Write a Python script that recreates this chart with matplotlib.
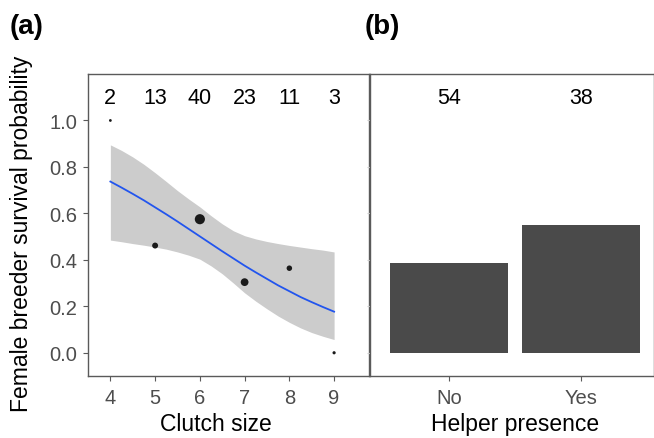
import matplotlib
matplotlib.use("Agg")
import matplotlib.pyplot as plt
import numpy as np

plt.rcParams['font.family'] = ['Liberation Sans', 'DejaVu Sans']

# Panel (a) data
clutch = [4, 5, 6, 7, 8, 9]
survival = [1.0, 0.4615, 0.575, 0.304, 0.364, 0.0]
n_clutch = [2, 13, 40, 23, 11, 3]

fit_x = [4.00, 4.25, 4.50, 4.75, 5.00, 5.25, 5.50, 5.75, 6.00, 6.25, 6.50,
         6.75, 7.00, 7.25, 7.50, 7.75, 8.00, 8.25, 8.50, 8.75, 9.00]
fit_mid = [0.737, 0.711, 0.684, 0.656, 0.626, 0.596, 0.565, 0.533, 0.501, 0.469, 0.437,
           0.406, 0.375, 0.346, 0.318, 0.290, 0.265, 0.240, 0.218, 0.197, 0.177]
fit_up = [0.895, 0.871, 0.843, 0.811, 0.775, 0.737, 0.698, 0.662, 0.628, 0.590, 0.555,
          0.525, 0.504, 0.490, 0.479, 0.470, 0.462, 0.455, 0.448, 0.442, 0.434]
fit_lo = [0.485, 0.478, 0.470, 0.463, 0.455, 0.446, 0.434, 0.420, 0.403, 0.374, 0.340,
          0.300, 0.258, 0.222, 0.189, 0.158, 0.131, 0.107, 0.087, 0.071, 0.057]

# Panel (b) data
helper = ["No", "Yes"]
helper_surv = [0.388, 0.551]
n_helper = [54, 38]

W, H = 654, 439
fig = plt.figure(figsize=(W / 100, H / 100), dpi=100)

spine_col = "#5a5a5a"
tick_col = "#4d4d4d"

def px_axes(l, t, r, b):
    return fig.add_axes([l / W, 1 - b / H, (r - l) / W, (b - t) / H])

ax1 = px_axes(88, 75, 369, 377)
ax2 = px_axes(370, 75, 653.5, 377)

# Panel (a)
ax1.fill_between(fit_x, fit_lo, fit_up, color="#cccccc", lw=0, zorder=1)
ax1.plot(fit_x, fit_mid, color="#2255ee", lw=1.3, zorder=2)
sizes = [4 + (n - 2) * 1.3 for n in n_clutch]
ax1.scatter(clutch, survival, s=sizes, color="#1a1a1a", zorder=3, lw=0)
for x, n in zip(clutch, n_clutch):
    ax1.text(x, 1.1, str(n), ha="center", va="center", fontsize=15.5, color="black")
ax1.set_xlim(3.5, 9.78)
ax1.set_ylim(-0.1, 1.2)
ax1.set_xticks(clutch)
ax1.set_yticks([0.0, 0.2, 0.4, 0.6, 0.8, 1.0])
ax1.set_yticklabels(["0.0", "0.2", "0.4", "0.6", "0.8", "1.0"])
ax1.set_xlabel("Clutch size", fontsize=16.5, va="top")
ax1.xaxis.set_label_coords((216 - 88) / 281, -(413 - 377) / 302)
ax1.set_ylabel("Female breeder survival probability", fontsize=16.5)
ax1.yaxis.set_label_coords(-(88 - 33) / 281, (377 - 234) / 302)

# Panel (b)
ax2.bar([1, 2], helper_surv, width=0.9, color="#4a4a4a", edgecolor="none")
for x, n in zip([1, 2], n_helper):
    ax2.text(x, 1.1, str(n), ha="center", va="center", fontsize=15.5, color="black")
ax2.set_xlim(0.4, 2.55)
ax2.set_ylim(-0.1, 1.2)
ax2.set_xticks([1, 2])
ax2.set_xticklabels(helper)
ax2.set_yticks([0.0, 0.2, 0.4, 0.6, 0.8, 1.0])
ax2.set_yticklabels([])
ax2.tick_params(axis="y", length=2, color="#cccccc")
ax2.set_xlabel("Helper presence", fontsize=16.5, va="top")
ax2.xaxis.set_label_coords((515 - 370) / 283.5, -(413 - 377) / 302)

for ax in (ax1, ax2):
    for sp in ax.spines.values():
        sp.set_color(spine_col)
        sp.set_linewidth(1.0)
    ax.tick_params(axis="x", labelsize=14.5, colors=tick_col, length=3.5, width=0.8, pad=5)
    ax.tick_params(axis="x", color=spine_col)
ax1.tick_params(axis="y", labelsize=14.5, colors=tick_col, length=3.5, width=0.8, pad=4)
ax1.tick_params(axis="y", color=spine_col)

fig.text(10 / W, 1 - 27 / H, "(a)", fontsize=20, fontweight="bold", va="center", ha="left")
fig.text(365 / W, 1 - 27 / H, "(b)", fontsize=20, fontweight="bold", va="center", ha="left")

fig.savefig("out.png", dpi=100)
